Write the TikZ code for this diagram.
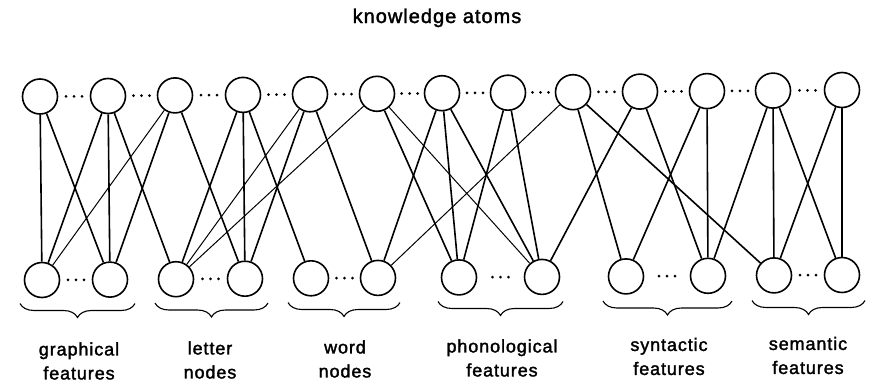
\documentclass[tikz,border=0pt]{standalone}
\usepackage{fontspec}
\setmainfont{Liberation Sans}
\newfontfamily\labelfont[LetterSpace=5,FakeBold=1.8]{Liberation Sans}
\usetikzlibrary{decorations.pathreplacing,calc}
\begin{document}
\begin{tikzpicture}[x=1pt,y=-1pt,
  unit/.style={circle,draw,line width=1.6pt,minimum size=35pt,inner sep=0pt},
  link/.style={line width=1.6pt},
  thinlink/.style={line width=1pt},
  groupbrace/.style={decorate,decoration={brace,mirror,amplitude=14pt},line width=1.1pt},
  grouplabel/.style={font=\labelfont\fontsize{18}{24}\selectfont,align=center},
  titlelabel/.style={font=\labelfont\fontsize{20}{24}\selectfont,anchor=base},
  ellipsis/.pic={\fill (-8pt,0pt) circle (1.5pt) (0pt,0pt) circle (1.5pt) (8pt,0pt) circle (1.5pt);}
]
\useasboundingbox (0,0) rectangle (872,383);

% knowledge atoms (upper row)
\foreach \i/\x/\y in {1/40/96.5, 2/108/96, 3/175/95.4, 4/243/94.9, 5/310/94.3,
  6/377/93.8, 7/442/93.2, 8/508/92.7, 9/573/92.2, 10/640/91.6, 11/707/91.1,
  12/773/90.6, 13/842/90}
  \node[unit] (t\i) at (\x,\y) {};

% feature and word nodes (lower row)
\foreach \i/\x/\y in {1/42/280, 2/110/279.6, 3/176/279.2, 4/245/278.7,
  5/311/278.3, 6/378/277.9, 7/459/277.4, 8/542/276.9, 9/626/276.4,
  10/708/275.8, 11/774/275.4, 12/842/275}
  \node[unit] (b\i) at (\x,\y) {};

% ellipses between neighbouring units
\foreach \a [evaluate=\a as \b using int(\a+1)] in {1,...,12}
  \pic at ($(t\a)!0.5!(t\b)$) {ellipsis};
\foreach \a [evaluate=\a as \b using int(\a+1)] in {1,3,5,7,9,11}
  \pic at ($(b\a)!0.5!(b\b)$) {ellipsis};

% connections
\foreach \s/\d in {1/1,1/2,2/1,2/2,2/3,3/2,3/4,4/3,4/4,4/5,5/4,5/6,
  6/7,7/6,7/7,7/8,8/7,8/8,9/9,9/11,10/8,10/10,11/9,11/10,
  12/10,12/11,12/12,13/11,13/12}
  \draw[link] (t\s) -- (b\d);
\foreach \s/\d in {3/1,5/3,6/3,6/8,9/6}
  \draw[thinlink] (t\s) -- (b\d);

% group braces
\foreach \l/\r/\y in {20/135/303.5, 155/268/303, 288/400/302.5,
  438/563/301.5, 603/732/301, 752/865/300.5}
  \draw[groupbrace] (\l,\y) -- (\r,\y);

% labels
\node[titlelabel] (title) at (437,23) {knowledge atoms};
\node[grouplabel] (lgraph) at (79,361) {graphical\\features};
\node[grouplabel] (lletter) at (210,360) {letter\\nodes};
\node[grouplabel] (lword) at (345,359) {word\\nodes};
\node[grouplabel] (lphon) at (502,358) {phonological\\features};
\node[grouplabel] (lsyn) at (669,356.5) {syntactic\\features};
\node[grouplabel] (lsem) at (808,355.5) {semantic\\features};
\end{tikzpicture}
\end{document}
